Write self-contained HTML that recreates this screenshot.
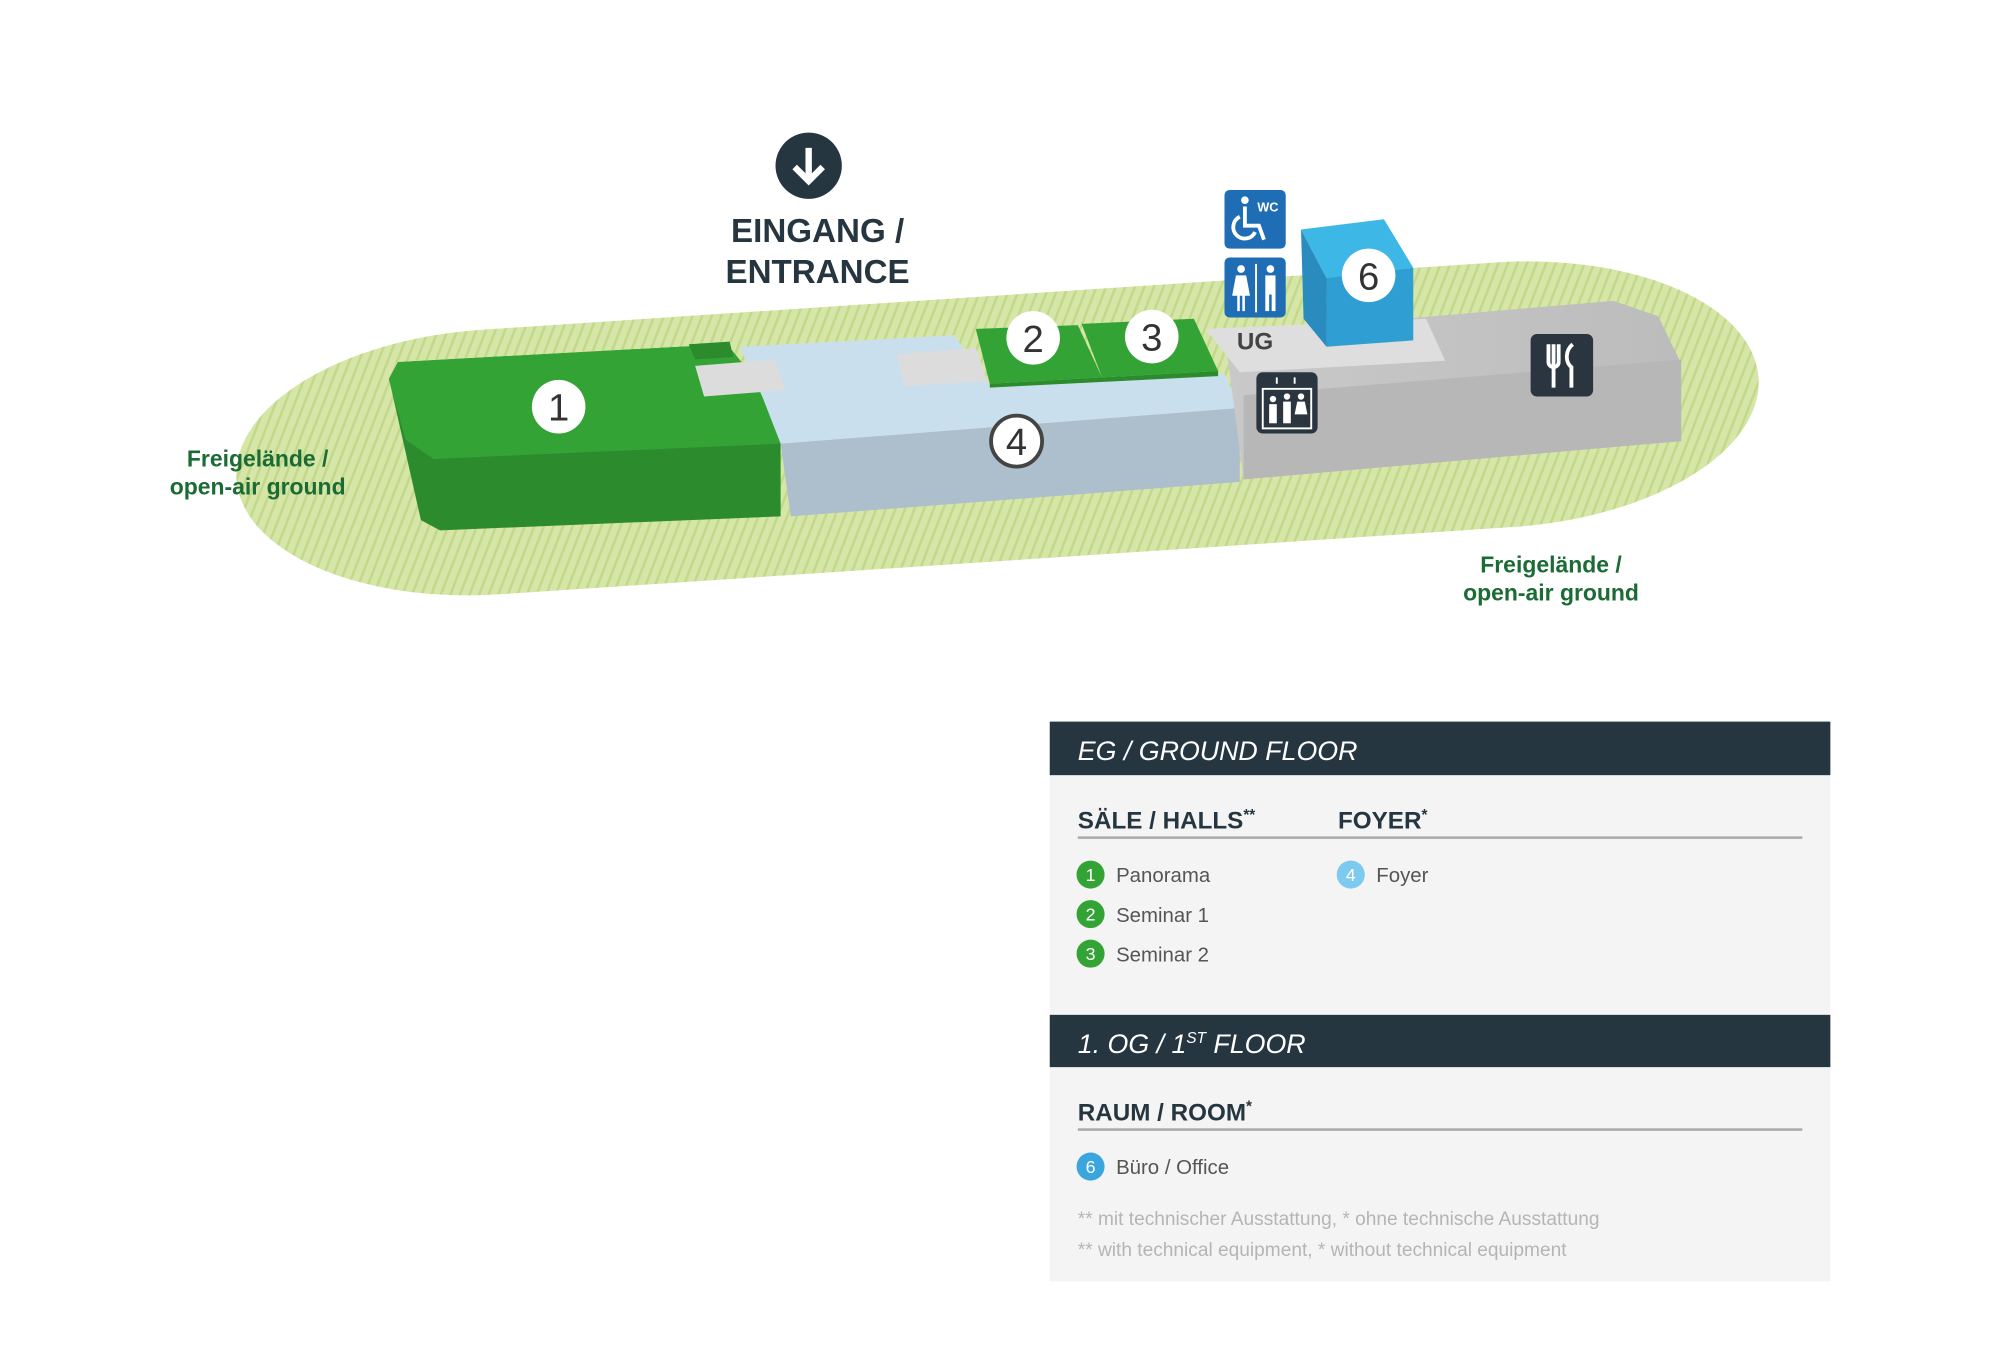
<!DOCTYPE html>
<html><head><meta charset="utf-8"><style>html,body{margin:0;padding:0;background:#fff}svg{display:block}text{font-family:"Liberation Sans",sans-serif}</style></head><body>
<svg width="2000" height="1368" viewBox="0 0 1568 1073" preserveAspectRatio="none" xmlns="http://www.w3.org/2000/svg">
<defs>
<pattern id="h" width="7" height="7" patternUnits="userSpaceOnUse" patternTransform="rotate(25)">
<rect width="7" height="7" fill="#d6e6a8"/><rect width="2" height="7" fill="#c3d98a"/></pattern>
<linearGradient id="g1" x1="0" x2="1"><stop offset="0" stop-color="#c9c9c9"/><stop offset="1" stop-color="#bcbcbc"/></linearGradient>
</defs>
<rect x="184" y="232" width="1196" height="208" rx="200" ry="104" fill="url(#h)" transform="rotate(-3.8 782 336)"/>
<!-- block 1 -->
<path d="M305,297 L312,284 L570,270 L612,322 L612,405 L345,416 L330,408 Z" fill="#2b8b2d"/>
<path d="M312,284 L570,270 L612,322 L612,348 L340,360 L318,345 L305,298 Z" fill="#34a336"/>
<path d="M540,270 L572,268 L575,280 L545,282 Z" fill="#2b8b2d"/>
<!-- foyer -->
<path d="M612,348 L972,320 L972,378 L620,405 Z" fill="#adbecc"/>
<path d="M580,272 L748,263 L776,302 L960,293 L972,320 L612,348 L598,312 Z" fill="#c9dfee"/>
<path d="M545,287 L608,282 L615,306 L552,311 Z" fill="#dcdcdc"/>
<path d="M703,278 L765,273 L774,299 L709,303 Z" fill="#dcdcdc"/>
<!-- seminar 2,3 -->
<path d="M765,258 L845,255 L864,296 L776,301 Z" fill="#34a336"/>
<path d="M848,254 L936,250 L955,291 L864,296 Z" fill="#34a336"/>
<path d="M776,301 L864,296 L955,291 L955,295 L776,304 Z" fill="#2b8b2d"/>
<!-- gray block -->
<path d="M960,262 L1265,236 L1300,248 L1318,285 L1318,346 L975,376 Z" fill="url(#g1)"/>
<path d="M975,310 L1318,282 L1318,346 L975,376 Z" fill="#b7b7b7"/>
<path d="M945,258 L1118,250 L1133,283 L972,292 Z" fill="#dedede"/>
<!-- cube 6 -->
<path d="M1020,180 L1040,218 L1040,272 L1022,250 Z" fill="#2a8bbf"/>
<path d="M1040,218 L1108,210 L1108,267 L1040,272 Z" fill="#2f9fd3"/>
<path d="M1020,180 L1085,172 L1108,210 L1040,218 Z" fill="#3db7e6"/>
<!-- numbers -->
<g font-size="30" text-anchor="middle" fill="#333">
<circle cx="438" cy="319" r="21" fill="#fff"/><text x="438" y="330">1</text>
<circle cx="810" cy="265" r="21" fill="#fff"/><text x="810" y="276">2</text>
<circle cx="903" cy="264" r="21" fill="#fff"/><text x="903" y="275">3</text>
<circle cx="797" cy="346" r="20" fill="#fff" stroke="#444" stroke-width="3"/><text x="797" y="357">4</text>
<circle cx="1073" cy="216" r="21" fill="#fff"/><text x="1073" y="227">6</text>
</g>
<text x="984" y="274" font-size="19" font-weight="bold" fill="#444" text-anchor="middle">UG</text>
<!-- icons -->
<rect x="960" y="149" width="48" height="46" rx="4" fill="#1f6db5"/>
<text x="994" y="166" font-size="10" font-weight="bold" fill="#fff" text-anchor="middle">WC</text>
<circle cx="976" cy="157" r="3" fill="#fff"/><path d="M976,162 V177 H987 L991,188 M972,170 a9,9 0 1 0 12,12" stroke="#fff" stroke-width="3" fill="none"/>
<rect x="960" y="202" width="48" height="47" rx="4" fill="#1f6db5"/>
<g fill="#fff"><circle cx="973" cy="211" r="3"/><path d="M969,216 H977 L980,232 H966 Z M970,232 h2 v12 h-2Z M974,232 h2 v12 h-2Z"/>
<circle cx="996" cy="211" r="3"/><rect x="992" y="216" width="8" height="15"/><rect x="992" y="231" width="3" height="13"/><rect x="997" y="231" width="3" height="13"/><rect x="984" y="207" width="1.5" height="38"/></g>
<rect x="985" y="292" width="48" height="48" rx="5" fill="#2a3540"/>
<rect x="990" y="305" width="38" height="31" fill="none" stroke="#fff" stroke-width="1.5"/>
<g fill="#fff"><path d="M1001,296 v5 M1015,301 v-5" stroke="#fff" stroke-width="1.5"/><circle cx="998" cy="313" r="2.5"/><rect x="995" y="317" width="6" height="15"/><circle cx="1009" cy="311" r="2.5"/><rect x="1006" y="315" width="6" height="17"/><circle cx="1020" cy="311" r="2.5"/><path d="M1017,315 h6 l2,10 h-10Z"/></g>
<rect x="1200" y="262" width="49" height="49" rx="5" fill="#2a3540"/>
<path d="M1214,270 v14 a4,4 0 0 0 8,0 v-14 M1218,270 v34 M1233,270 c-6,5 -6,14 -1,18 v16" stroke="#fff" stroke-width="3" fill="none"/>
<!-- entrance -->
<circle cx="634" cy="130" r="26" fill="#263640"/>
<path d="M634,116 V140 M623,131 L634,142 L645,131" stroke="#fff" stroke-width="5" fill="none"/>
<g font-size="26" font-weight="bold" fill="#263640" text-anchor="middle"><text x="641" y="190">EINGANG /</text><text x="641" y="222">ENTRANCE</text></g>
<g font-size="18" font-weight="bold" fill="#1b6b35" text-anchor="middle"><text x="202" y="366">Freigelände /</text><text x="202" y="388">open-air ground</text><text x="1216" y="449">Freigelände /</text><text x="1216" y="471">open-air ground</text></g>
<!-- panel -->
<rect x="823" y="566" width="612" height="439" fill="#f4f4f4"/>
<rect x="823" y="566" width="612" height="42" fill="#263640"/>
<rect x="823" y="796" width="612" height="41" fill="#263640"/>
<g font-size="21" font-style="italic" fill="#fff"><text x="845" y="596">EG / GROUND FLOOR</text><text x="845" y="826">1. OG / 1<tspan font-size="12" dy="-8">ST</tspan><tspan dy="8"> FLOOR</tspan></text></g>
<g font-size="19" font-weight="bold" fill="#263640"><text x="845" y="650">SÄLE / HALLS<tspan font-size="12" dy="-7">**</tspan></text><text x="1049" y="650">FOYER<tspan font-size="12" dy="-7">*</tspan></text><text x="845" y="879">RAUM / ROOM<tspan font-size="12" dy="-7">*</tspan></text></g>
<rect x="845" y="656" width="568" height="2" fill="#aaa"/><rect x="845" y="885" width="568" height="2" fill="#aaa"/>
<g font-size="14" fill="#fff" text-anchor="middle">
<circle cx="855" cy="686" r="11" fill="#34a336"/><text x="855" y="691">1</text>
<circle cx="855" cy="717" r="11" fill="#34a336"/><text x="855" y="722">2</text>
<circle cx="855" cy="748" r="11" fill="#34a336"/><text x="855" y="753">3</text>
<circle cx="1059" cy="686" r="11" fill="#7ccaf0"/><text x="1059" y="691">4</text>
<circle cx="855" cy="915" r="11" fill="#3aa6dd"/><text x="855" y="920">6</text>
</g>
<g font-size="16" fill="#555"><text x="875" y="692">Panorama</text><text x="875" y="723">Seminar 1</text><text x="875" y="754">Seminar 2</text><text x="1079" y="692">Foyer</text><text x="875" y="921">Büro / Office</text></g>
<g font-size="15" fill="#b5b5b5"><text x="845" y="961">** mit technischer Ausstattung, * ohne technische Ausstattung</text><text x="845" y="985">** with technical equipment, * without technical equipment</text></g>
</svg>
</body></html>
